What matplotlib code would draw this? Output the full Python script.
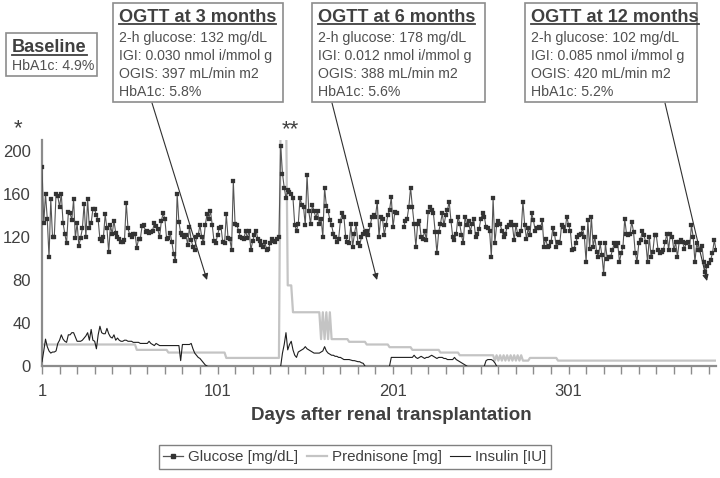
import numpy as np
import matplotlib
matplotlib.use("Agg")
import matplotlib.pyplot as plt
from matplotlib.patches import Rectangle
from matplotlib.lines import Line2D

plt.rcParams['font.family'] = ['Liberation Sans', 'DejaVu Sans']

# ---------------- data ----------------
NA = np.nan
# daily glucose [mg/dL], days 1..385 (NaN = no measurement)
glucose_a = [185,133,160,137,101,155,120,120,160,158,
             148,160,133,123,114,143,142,136,155,119,
             133,112,119,128,151,120,155,128,133,146,
             146,140,136,118,116,120,141,128,106,131,
             123,135,124,120,118,115,115,117,152,128,
             122,120,123,123,110,118,118,130,131,125,
             126,124,125,126,133,130,127,120,135,142,
             137,118,119,124,115,104,98]
glucose_b = [160,134,124,122,120,122,113,129,117,111,
             108,120,122,131,120,114,131,141,137,144,
             131,116,114,122,128,129,115,114,141,119,
             118,108,172,132,131,126,120,119,118,126,
             119,126,108,116,122,126,118,116,113,111,
             115,108,109,114,118,116,115,118,120]
glucose_c = [205,179,166,156,164,162,160,156,131,126,
             132,156,150,148,131,178,144,132,150,144,
             138,144,132,137,120,166,149,144,136,131,
             123,120,115,118]
glucose_d = [135,142,139,120,115,114,132,111,123,132,
             114,112,120,123,125,126,122,131,139,140,
             139,153,120,139,137,122,131,140,145,157,
             129,143,142]
glucose_gap = [NA, NA, NA]
glucose_e = [129,135,137,148,166,148,132,111,132,135,
             120,118,126,117,143,148,145,142,125,
             105,125,132,142,131,140,145,153,135,120,
             117,123,139,132,122,114,139,131,135,125,
             132,137,120,123,127,137,142,139,129,128,
             126,101,
             156,114,131,135,132,126,120,123,129,131]
glucose_f = [134,131,117,131,123,121.5,126,153,131,118.5,
             128,121.5,142,135.5,126,128,129,128,135.5,
             111,118.5,111,112,115,128,123,111,115,
             114,131,129,126,139,131,126,108,109,114,
             120,121.5,123,128,120,97,135.5,109,139,111,
             120,106,101.5,114,103,86,114,100,
             101.5,101.5,108,114,112,114,97,105,111,137,
             123,121.5,123,134,125,105,97,114,117,126,
             121.5,115,97,120,101.5,106,121.5,121.5,108,105,
             106,108,115,123,108,123,120,108,
             115,101.5,115,117,115,109,114,115,111,
             131,120,97,114,108,108,112,97,87.5,93,
             96,99,105,117,108]
glucose = glucose_a + glucose_b + glucose_c + glucose_d + glucose_gap + glucose_e + glucose_f

# prednisone [mg]: dose and number of consecutive days at that dose
pred_dose = [20, 15, 12.5, 7.5, 250, 75, 50,
             25, 50, 25, 50, 25, 50,
             25, 22.5, 20, 17.5, 15, 12.5, 10,
             5, 10, 5, 10, 5, 10, 5, 10, 5, 10, 5, 10, 5, 10, 5, 10, 5,
             5, 7.5, 5]
pred_len = [54, 18, 33, 31, 4, 3, 16,
            1, 1, 1, 1, 1, 1,
            10, 10, 13, 13, 16, 11, 20,
            1, 1, 1, 1, 1, 1, 1, 1, 1, 1, 1, 1, 1, 1, 1, 1, 1,
            3, 16, 91]

# insulin [IU] daily (NaN = none given)
insulin_a = [4,14,25,18,14,12,13,13,14,21,
             24,29,25,23,22,29,29,31,31,27,
             23,23,23,24,26,28,31,24,34,24,
             23,16,29,37,31,30,30,35,30,27,
             26,29,24,26,24,23,23,24,24,23,
             23,23,22,22,22,22,21,21,21,21,
             21,23,21,20,19,21,20,19,19,19,
             19,19,19,19,19,19,19,19,19,5,
             20,20,20,20,20,21,16,12,10,8,
             7,5,3,1,0]
insulin_b = [0,12,20,31,15,20,23,15,10,8,
             13,14,15,16,18,16,15,14,13,12,
             12,12,12,13,14,18,14,12,11,10,
             10,9,9,8,8,7,6,6,6,6,
             5.5,5,5,4.5,4,4,3,2.5,0]
insulin_c = [0,8,8,8,8,8,8,8,8,8,
             8,8,8,8,10,8,7,8,9,8,
             7,8,8,9,10,9,8,7,8,8,
             8,7,7,6,6,6,6,8,6,5,
             4,3,2,1,0]
insulin_d = [0,5,6,6,6,5,3,0]
insulin = (insulin_a + [NA]*41 + insulin_b + [NA]*13 + insulin_c
           + [NA]*9 + insulin_d + [NA]*125)

xtick_labels = [1, 101, 201, 301]
ytick_vals = [0, 40, 80, 120, 160, 200]

boxes = [
    dict(title="Baseline", lines=["HbA1c: 4.9%"]),
    dict(title="OGTT at 3 months", lines=["2-h glucose: 132 mg/dL", "IGI: 0.030 nmol i/mmol g",
                                          "OGIS: 397 mL/min m2", "HbA1c: 5.8%"]),
    dict(title="OGTT at 6 months", lines=["2-h glucose: 178 mg/dL", "IGI: 0.012 nmol i/mmol g",
                                          "OGIS: 388 mL/min m2", "HbA1c: 5.6%"]),
    dict(title="OGTT at 12 months", lines=["2-h glucose: 102 mg/dL", "IGI: 0.085 nmol i/mmol g",
                                           "OGIS: 420 mL/min m2", "HbA1c: 5.2%"]),
]

# ---------------- figure ----------------
W, H = 720, 478
fig = plt.figure(figsize=(W / 100, H / 100), dpi=100)
ax = fig.add_axes([42 / W, 1 - 366 / H, (716 - 42) / W, (366 - 140.25) / H])

days = np.arange(1, len(glucose) + 1)
prednisone = np.repeat(pred_dose, pred_len)
pdays = np.arange(1, len(prednisone) + 1)
idays = np.arange(1, len(insulin) + 1)

TXT = '#404040'
AXC = '#8c8c8c'
GLC = '#555555'
GMK = '#333333'

ax.plot(pdays, prednisone, color='#c4c4c4', lw=1.6, zorder=2)
ax.plot(idays, insulin, color='#1e1e1e', lw=0.8, zorder=3)
ax.plot(days, glucose, color=GLC, lw=0.8, marker='s', ms=2.5,
        mfc=GMK, mec=GMK, mew=0.2, zorder=4)

ax.set_xlim(1, 385)
ax.set_ylim(0, 210)
for s in ['top', 'right']:
    ax.spines[s].set_visible(False)
for s in ['left', 'bottom']:
    ax.spines[s].set_color(AXC)
    ax.spines[s].set_linewidth(1.6)

ax.set_xticks(xtick_labels)
ax.set_xticklabels([str(v) for v in xtick_labels])
ax.set_xticks(np.arange(1, 386, 10), minor=True)
ax.tick_params(axis='x', which='both', direction='out', length=6, width=1,
               color=AXC, labelsize=12, labelcolor=TXT, pad=7)
ax.set_yticks(ytick_vals)
ax.tick_params(axis='y', length=0, labelsize=12, labelcolor=TXT, pad=8)

fig.text(391 / W, 1 - 415 / H, "Days after renal transplantation", ha='center',
         va='center', fontsize=13.5, fontweight='bold', color=TXT)

# markers for events
fig.text(18 / W, 1 - 129 / H, "*", ha='center', va='center', fontsize=16, color=TXT)
fig.text(290 / W, 1 - 130 / H, "**", ha='center', va='center', fontsize=16, color=TXT)

# legend
handles = [Line2D([], [], color=GLC, lw=0.9, marker='s', ms=2.5, mfc=GMK, mec=GMK),
           Line2D([], [], color='#c4c4c4', lw=1.6),
           Line2D([], [], color='#1e1e1e', lw=0.8)]
leg = fig.legend(handles, ["Glucose [mg/dL]", "Prednisone [mg]", "Insulin [IU]"],
                 loc='center', bbox_to_anchor=(355 / W, 1 - 457 / H), ncol=3,
                 fontsize=10.9, frameon=True, fancybox=False, handlelength=1.3,
                 handletextpad=0.35, columnspacing=0.55, borderpad=0.3)
leg.get_frame().set_edgecolor('#606060')
leg.get_frame().set_linewidth(1.0)
for t in leg.get_texts():
    t.set_color(TXT)

# annotation boxes
geom = [
    dict(l=6, t=33, r=97, b=76, ty=48, ly=[66]),
    dict(l=113, t=3, r=283, b=102, ty=17, ly=[38, 56, 74, 92]),
    dict(l=312, t=3, r=485, b=102, ty=17, ly=[38, 56, 74, 92]),
    dict(l=525, t=3, r=697, b=102, ty=17, ly=[38, 56, 74, 92]),
]
renderer = fig.canvas.get_renderer()
for bx, g in zip(boxes, geom):
    fig.add_artist(Rectangle((g['l'] / W, 1 - g['b'] / H), (g['r'] - g['l']) / W,
                             (g['b'] - g['t']) / H, transform=fig.transFigure,
                             fill=False, edgecolor=AXC, lw=1.2))
    tt = fig.text((g['l'] + 6) / W, 1 - g['ty'] / H, bx['title'], ha='left', va='center',
                  fontsize=13.1, fontweight='bold', color=TXT)
    bb = tt.get_window_extent(renderer)
    uy = bb.y0 + 1.5
    fig.add_artist(Line2D([bb.x0 / W, bb.x1 / W], [uy / H, uy / H],
                          transform=fig.transFigure, color=TXT, lw=1.3))
    for txt, y in zip(bx['lines'], g['ly']):
        fig.text((g['l'] + 6) / W, 1 - y / H, txt, ha='left', va='center',
                 fontsize=10.2, color='#505050')

arrows = [((152, 103), (207, 280)), ((332, 103), (377, 280)), ((665, 103), (707, 281))]
for (x0, y0), (x1, y1) in arrows:
    ax.annotate('', xy=(x1 / W, 1 - y1 / H), xycoords='figure fraction',
                xytext=(x0 / W, 1 - y0 / H), textcoords='figure fraction',
                arrowprops=dict(arrowstyle='-|>', color='#303030', lw=0.8,
                                mutation_scale=9, shrinkA=0, shrinkB=0), zorder=6)

fig.savefig("out.png", dpi=100)
